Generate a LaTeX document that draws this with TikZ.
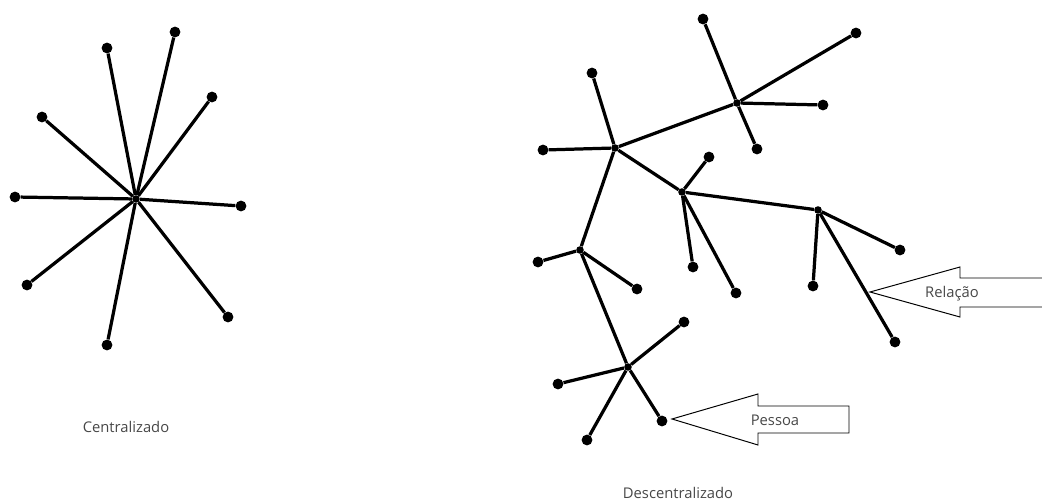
\documentclass[tikz,border=0pt]{standalone}
\usepackage{fontspec}
\setmainfont{Open Sans}
\usepackage{tikz}
\usetikzlibrary{positioning, calc}

\begin{document}
\begin{tikzpicture}[x=0.025cm, y=-0.025cm,
        dot/.style={circle, fill=black, inner sep=0pt, minimum size=2.7mm},
        hub/.style={circle, fill=black, inner sep=0pt, minimum size=1.9mm},
        link/.style={line width=2.3pt, black},
        rotulo/.style={font=\fontsize{10.5}{12}\selectfont, text=black!72}]
        \useasboundingbox (0,0) rectangle (1042,504);

        % Centralizado
        \node[hub] (c) at (136,199) {};
        \node[dot] (c1) at (107,48) {};
        \node[dot] (c2) at (175,32) {};
        \node[dot] (c3) at (212,97) {};
        \node[dot] (c4) at (42,117) {};
        \node[dot] (c5) at (15,197) {};
        \node[dot] (c6) at (241,206) {};
        \node[dot] (c7) at (27,285) {};
        \node[dot] (c8) at (228,317) {};
        \node[dot] (c9) at (107,345) {};
        \foreach \i in {1,...,9}
            \draw[link] (c) -- (c\i);
        \node[rotulo] (cent) at (126,427) {Centralizado};

        % Descentralizado: centros
        \node[hub] (h1) at (615,148) {};
        \node[hub] (h2) at (737,103) {};
        \node[hub] (h3) at (682,192) {};
        \node[hub] (h4) at (818,210) {};
        \node[hub] (h5) at (580,250) {};
        \node[hub] (h6) at (628,367) {};
        \draw[link] (h1) -- (h2);
        \draw[link] (h1) -- (h3);
        \draw[link] (h3) -- (h4);
        \draw[link] (h1) -- (h5);
        \draw[link] (h5) -- (h6);

        % Pessoas
        \node[dot] (a1) at (592,73) {};
        \node[dot] (a2) at (543,150) {};
        \node[dot] (b1) at (703,19) {};
        \node[dot] (b2) at (856,33) {};
        \node[dot] (b3) at (823,105) {};
        \node[dot] (b4) at (757,149) {};
        \node[dot] (d1) at (709,157) {};
        \node[dot] (d2) at (693,267) {};
        \node[dot] (d3) at (736,293) {};
        \node[dot] (e1) at (900,250) {};
        \node[dot] (e2) at (813,286) {};
        \node[dot] (e3) at (895,342) {};
        \node[dot] (f1) at (538,262) {};
        \node[dot] (f2) at (637,289) {};
        \node[dot] (g1) at (684,322) {};
        \node[dot] (g2) at (558,384) {};
        \node[dot] (g3) at (662,421) {};
        \node[dot] (g4) at (587,440) {};
        \foreach \p in {a1,a2}
            \draw[link] (h1) -- (\p);
        \foreach \p in {b1,b2,b3,b4}
            \draw[link] (h2) -- (\p);
        \foreach \p in {d1,d2,d3}
            \draw[link] (h3) -- (\p);
        \foreach \p in {e1,e2,e3}
            \draw[link] (h4) -- (\p);
        \foreach \p in {f1,f2}
            \draw[link] (h5) -- (\p);
        \foreach \p in {g1,g2,g3,g4}
            \draw[link] (h6) -- (\p);
        \node[rotulo] (desc) at (678,493) {Descentralizado};

        % Setas
        \coordinate (rel) at (870,292);
        \draw[line width=0.7pt] (1042,278) -- (960,278) -- (960,267) -- (rel)
            -- (960,317) -- (960,307) -- (1042,307);
        \node[rotulo] (relacao) at (952,294) {Relação};
        \coordinate (pes) at (672,419);
        \draw[line width=0.7pt] (pes) -- (758,394) -- (758,406) -- (849,406)
            -- (849,433) -- (758,433) -- (758,445) -- cycle;
        \node[rotulo] (pessoa) at (775,420) {Pessoa};
\end{tikzpicture}
\end{document}
